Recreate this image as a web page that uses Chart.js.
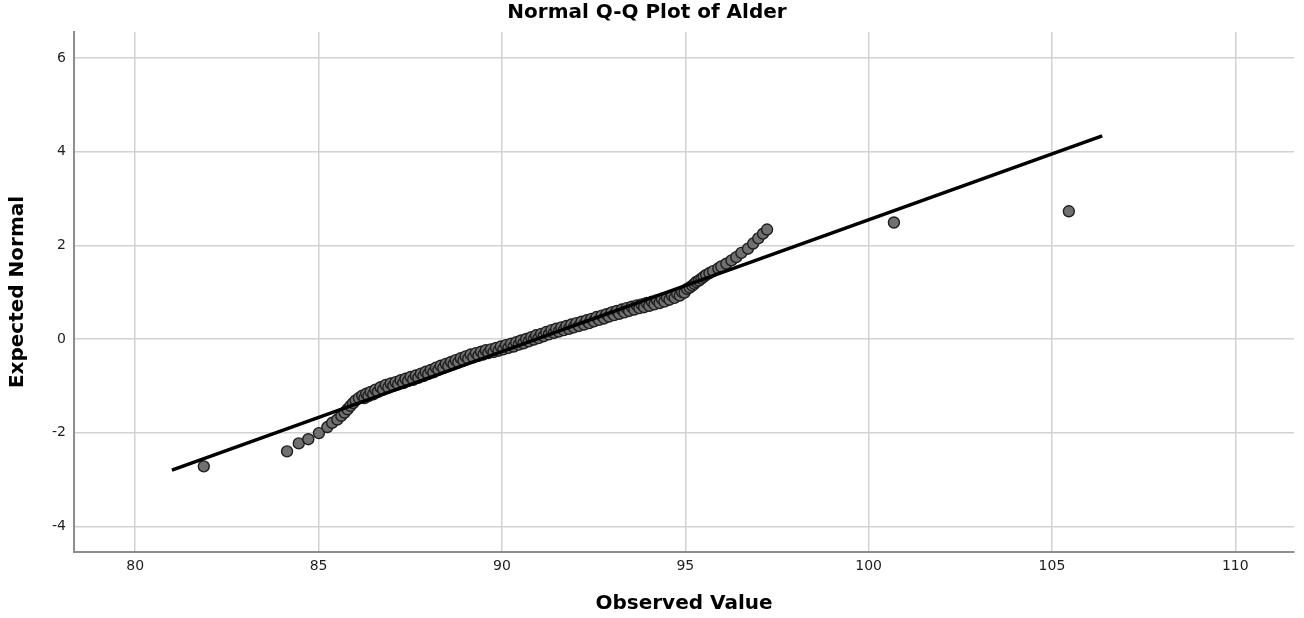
<!DOCTYPE html>
<html>
<head>
<meta charset="utf-8">
<title>Normal Q-Q Plot of Alder</title>
<script src="https://cdn.jsdelivr.net/npm/chart.js@4.4.1/dist/chart.umd.min.js"></script>
<style>
  html, body { margin: 0; padding: 0; background: #fff; }
  #wrap { width: 1304px; height: 618px; }
</style>
</head>
<body>
<div id="wrap"><canvas id="qq" width="1304" height="618"></canvas></div>
<script>
/* Normal Q-Q plot — observed values against expected normal scores */
const FONT = "'DejaVu Sans', 'Liberation Sans', Arial, sans-serif";
const GRID = '#d2d2d2';
const AXIS = '#8e8e8e';
const TEXT = '#1e1e1e';

const observed = [
  81.87, 84.14, 84.46, 84.72, 85.01, 85.24, 85.37, 85.51, 85.62, 85.71,
  85.79, 85.87, 85.94, 86.01, 86.10,
  86.19, 86.25, 86.30, 86.36, 86.42, 86.49, 86.55, 86.62, 86.69, 86.76,
  86.83, 86.90, 86.97, 87.04, 87.10, 87.17, 87.24, 87.31, 87.37, 87.44,
  87.51, 87.58, 87.65, 87.72, 87.79, 87.86, 87.92, 87.99, 88.06, 88.13,
  88.20, 88.27, 88.33, 88.40, 88.47, 88.54, 88.61, 88.68, 88.74, 88.81,
  88.88, 88.95, 89.01, 89.08, 89.15, 89.22, 89.29, 89.36, 89.43, 89.50,
  89.56, 89.63, 89.70, 89.77, 89.84, 89.91, 89.97, 90.04, 90.11, 90.18,
  90.25, 90.32, 90.39, 90.46, 90.52, 90.59, 90.66, 90.73, 90.80, 90.87,
  90.93, 91.00, 91.07, 91.14, 91.21, 91.28, 91.35, 91.42, 91.48, 91.55,
  91.62, 91.69, 91.76, 91.83, 91.89, 91.96, 92.03, 92.10, 92.17, 92.24,
  92.31, 92.38, 92.44, 92.51, 92.58, 92.65, 92.72, 92.79, 92.85, 92.92,
  92.99, 93.06, 93.13, 93.20, 93.27, 93.34, 93.40, 93.47, 93.54, 93.61,
  93.68, 93.75, 93.81, 93.88, 93.95, 94.02, 94.09, 94.16, 94.23, 94.30,
  94.36, 94.43, 94.50, 94.57, 94.64, 94.71, 94.78, 94.85, 94.91, 94.98,
  95.05, 95.12, 95.19, 95.25, 95.30, 95.37, 95.44, 95.50, 95.57, 95.66,
  95.76, 95.90, 95.98, 96.12, 96.26, 96.39, 96.53, 96.71, 96.85, 96.99,
  97.12, 97.23, 100.69, 105.46
];
const expectedNormal = [
  -2.72, -2.40, -2.23, -2.14, -2.01, -1.88, -1.79, -1.72, -1.64, -1.57,
  -1.50, -1.43, -1.37, -1.31, -1.26,
  -1.21, -1.26, -1.17, -1.22, -1.13, -1.18, -1.08, -1.13, -1.03, -1.08,
  -0.98, -1.04, -0.95, -1.00, -0.92, -0.97, -0.88, -0.94, -0.85, -0.90,
  -0.81, -0.87, -0.78, -0.83, -0.74, -0.79, -0.70, -0.75, -0.66, -0.71,
  -0.61, -0.66, -0.57, -0.62, -0.53, -0.58, -0.49, -0.54, -0.45, -0.50,
  -0.41, -0.46, -0.37, -0.42, -0.33, -0.39, -0.30, -0.36, -0.27, -0.33,
  -0.24, -0.30, -0.22, -0.28, -0.19, -0.25, -0.16, -0.22, -0.13, -0.19,
  -0.10, -0.16, -0.07, -0.12, -0.03, -0.09, 0.00, -0.05, 0.04, -0.01,
  0.08, 0.02, 0.11, 0.06, 0.15, 0.10, 0.19, 0.13, 0.22, 0.16,
  0.25, 0.19, 0.28, 0.22, 0.31, 0.25, 0.34, 0.28, 0.37, 0.31,
  0.40, 0.34, 0.43, 0.38, 0.47, 0.41, 0.50, 0.44, 0.53, 0.48,
  0.57, 0.51, 0.60, 0.54, 0.63, 0.57, 0.66, 0.60, 0.69, 0.63,
  0.72, 0.66, 0.74, 0.68, 0.77, 0.71, 0.80, 0.74, 0.83, 0.77,
  0.86, 0.80, 0.89, 0.84, 0.93, 0.88, 0.97, 0.93, 1.01, 0.99,
  1.07, 1.10, 1.14, 1.18, 1.22, 1.25, 1.29, 1.33, 1.37, 1.41,
  1.45, 1.51, 1.55, 1.61, 1.68, 1.75, 1.84, 1.93, 2.04, 2.15,
  2.25, 2.34, 2.49, 2.73
];

// reference line end points
const refLineX = [81.0, 106.37];
const refLineY = [-2.80, 4.34];

const xTicks = [80, 85, 90, 95, 100, 105, 110];
const yTicks = [-4, -2, 0, 2, 4, 6];
const xRange = [78.33, 111.6];
const yRange = [-4.55, 6.56];

const pairs = (xs, ys) => xs.map((x, i) => ({ x, y: ys[i] }));

new Chart(document.getElementById('qq'), {
  type: 'scatter',
  data: {
    datasets: [
      {
        label: 'Reference line',
        data: pairs(refLineX, refLineY),
        showLine: true,
        borderColor: '#000',
        borderWidth: 3.5,
        pointRadius: 0,
        order: 0
      },
      {
        label: 'Alder',
        data: pairs(observed, expectedNormal),
        pointRadius: 5.5,
        pointBackgroundColor: '#707070',
        pointBorderColor: '#1e1e1e',
        pointBorderWidth: 1.4,
        order: 1
      }
    ]
  },
  options: {
    responsive: false,
    devicePixelRatio: 1,
    animation: false,
    layout: { padding: { right: 10 } },
    plugins: {
      legend: { display: false },
      tooltip: { enabled: false },
      title: {
        display: true,
        text: 'Normal Q-Q Plot of Alder',
        color: '#000',
        font: { family: FONT, size: 20, weight: 'bold' },
        padding: { top: 1, bottom: 7 }
      }
    },
    scales: {
      x: {
        type: 'linear',
        min: xRange[0],
        max: xRange[1],
        afterBuildTicks: s => { s.ticks = xTicks.map(v => ({ value: v })); },
        afterFit: s => { s.height = 66; },
        ticks: { color: TEXT, font: { family: FONT, size: 14 }, padding: 6 },
        grid: { color: GRID, lineWidth: 1.5, drawTicks: false },
        border: { color: AXIS, width: 2 },
        title: {
          display: true,
          text: 'Observed Value',
          color: '#000',
          font: { family: FONT, size: 20, weight: 'bold' },
          padding: { top: 0, bottom: 2 }
        }
      },
      y: {
        type: 'linear',
        min: yRange[0],
        max: yRange[1],
        afterBuildTicks: s => { s.ticks = yTicks.map(v => ({ value: v })); },
        afterFit: s => { s.width = 74; },
        ticks: { color: TEXT, font: { family: FONT, size: 14 }, padding: 8 },
        grid: { color: GRID, lineWidth: 1.5, drawTicks: false },
        border: { color: AXIS, width: 2 },
        title: {
          display: true,
          text: 'Expected Normal',
          color: '#000',
          font: { family: FONT, size: 20, weight: 'bold' },
          padding: { top: 6, bottom: 0 }
        }
      }
    }
  }
});
</script>
</body>
</html>
